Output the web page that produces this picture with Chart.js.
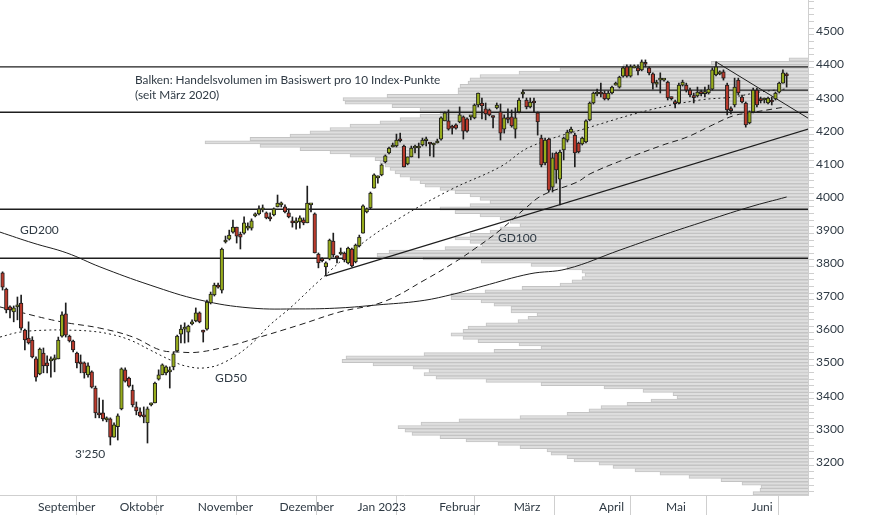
<!DOCTYPE html>
<html>
<head>
<meta charset="utf-8">
<script src="https://cdn.jsdelivr.net/npm/chart.js@4.4.1/dist/chart.umd.min.js"></script>
<style>
  html, body { margin: 0; padding: 0; background: #fff; }
  #wrap { width: 874px; height: 515px; }
</style>
</head>
<body>
<div id="wrap"><canvas id="chart" width="874" height="515"></canvas></div>
<script>
// one candle per trading day, index 0 = mid August 2022
const monthStarts = [9, 31, 52, 74, 95, 117, 137, 160, 178, 201];
const monthLabels = ["September", "Oktober", "November", "Dezember", "Jan 2023", "Februar", "März", "April", "Mai", "Juni"];

// [open, high, low, close]
const ohlc = [
  [3771,3774,3719,3728],[3722,3725,3650,3659],[3668,3671,3635,3659],[3653,3671,3623,3665],[3668,3698,3629,3671],
  [3680,3704,3598,3604],[3598,3601,3538,3568],[3574,3623,3556,3559],[3568,3578,3514,3517],
  // September
  [3511,3517,3444,3456],[3466,3544,3463,3541],[3529,3544,3469,3490],[3499,3520,3469,3490],[3505,3517,3456,3511],
  [3508,3523,3472,3514],[3511,3577,3511,3568],[3580,3653,3577,3644],[3647,3680,3577,3583],[3580,3583,3562,3565],
  [3565,3568,3532,3538],[3529,3532,3484,3499],[3499,3523,3469,3496],[3499,3502,3453,3469],[3463,3499,3456,3490],
  [3472,3475,3423,3426],[3423,3429,3333,3348],[3348,3393,3333,3342],[3348,3387,3324,3330],[3327,3336,3321,3330],
  [3330,3333,3251,3275],[3275,3318,3275,3312],
  // Oktober
  [3306,3345,3266,3339],[3360,3484,3357,3481],[3478,3484,3441,3444],[3453,3456,3426,3429],[3417,3432,3366,3372],
  [3366,3381,3342,3354],[3351,3363,3336,3339],[3339,3366,3318,3336],[3318,3366,3257,3360],[3372,3378,3369,3378],
  [3378,3441,3378,3438],[3450,3478,3447,3463],[3463,3496,3463,3493],[3469,3490,3463,3487],[3472,3487,3423,3476],
  [3487,3532,3478,3526],[3535,3583,3532,3580],[3586,3613,3559,3601],[3601,3620,3559,3604],[3592,3613,3562,3610],
  [3617,3629,3614,3620],
  // November
  [3626,3665,3623,3650],[3650,3653,3620,3623],[3595,3598,3562,3592],[3601,3689,3598,3683],[3680,3713,3677,3707],
  [3704,3740,3701,3734],[3734,3740,3725,3728],[3719,3846,3710,3843],[3864,3882,3861,3867],[3873,3900,3870,3885],
  [3894,3930,3891,3909],[3909,3909,3861,3882],[3888,3894,3843,3879],[3891,3940,3888,3922],[3906,3922,3900,3909],
  [3906,3934,3900,3928],[3943,3952,3940,3946],[3949,3973,3946,3964],[3961,3976,3955,3964],[3952,3955,3934,3937],
  [3940,3952,3928,3934],[3946,3967,3943,3964],
  // Dezember
  [3970,4006,3970,3982],[3976,3985,3970,3979],[3970,3976,3952,3955],[3952,3964,3937,3940],[3925,3940,3909,3922],
  [3922,3937,3903,3925],[3925,3943,3906,3937],[3931,3937,3916,3922],[3922,4033,3922,3982],[3976,3979,3955,3979],
  [3949,3952,3831,3831],[3828,3831,3786,3801],[3813,3816,3804,3808],[3789,3804,3762,3801],[3813,3873,3810,3870],
  [3867,3891,3819,3825],[3822,3822,3801,3816],[3828,3846,3825,3831],[3831,3834,3804,3810],[3801,3849,3798,3846],
  [3843,3846,3789,3792],
  // Januar
  [3804,3858,3801,3855],[3852,3885,3849,3879],[3891,3976,3891,3973],[3955,3967,3952,3964],[3967,4015,3964,4012],
  [4027,4070,4027,4067],[4058,4064,4042,4061],[4067,4100,4064,4097],[4106,4127,4103,4124],[4133,4151,4130,4148],
  [4151,4163,4151,4154],[4154,4190,4151,4172],[4175,4193,4166,4170],[4154,4157,4091,4091],[4100,4121,4097,4121],
  [4121,4154,4121,4148],[4148,4157,4133,4151],[4148,4163,4118,4151],[4157,4178,4154,4172],[4170,4181,4154,4174],
  [4163,4163,4124,4160],[4157,4163,4121,4160],
  // Februar
  [4163,4175,4163,4166],[4175,4242,4172,4239],[4230,4257,4230,4254],[4230,4263,4202,4205],[4214,4217,4190,4208],
  [4218,4221,4205,4208],[4227,4272,4224,4248],[4242,4245,4175,4199],[4236,4239,4196,4199],[4242,4245,4233,4245],
  [4239,4281,4236,4278],[4278,4314,4272,4314],[4284,4299,4236,4275],[4266,4284,4233,4251],[4263,4266,4245,4248],
  [4245,4245,4209,4240],[4269,4284,4266,4278],[4257,4281,4172,4193],[4205,4248,4193,4239],[4239,4266,4224,4234],
  // März
  [4242,4263,4211,4215],[4205,4269,4178,4239],[4257,4299,4254,4293],[4311,4323,4299,4316],[4293,4299,4266,4272],
  [4272,4299,4269,4287],[4290,4299,4257,4284],[4254,4257,4187,4227],[4178,4187,4091,4097],[4103,4178,4097,4172],
  [4175,4178,4015,4021],[4030,4133,4015,4118],[4133,4136,4042,4082],[4054,4142,3976,4136],[4142,4181,4112,4178],
  [4172,4202,4166,4196],[4196,4211,4193,4205],[4187,4193,4091,4133],[4163,4166,4133,4136],[4160,4181,4157,4178],
  [4166,4233,4163,4230],[4233,4287,4230,4284],[4284,4317,4281,4314],
  // April
  [4311,4326,4305,4314],[4314,4344,4302,4311],[4314,4320,4293,4296],[4296,4320,4293,4314],[4314,4335,4311,4332],
  [4338,4347,4338,4341],[4332,4365,4329,4362],[4365,4393,4362,4390],[4393,4399,4362,4365],[4365,4399,4362,4393],
  [4390,4399,4390,4393],[4390,4399,4369,4381],[4384,4414,4381,4408],[4404,4414,4393,4401],[4390,4393,4369,4375],
  [4372,4375,4326,4344],[4341,4353,4332,4346],[4353,4375,4314,4358],
  // Mai
  [4353,4356,4350,4353],[4347,4350,4293,4299],[4301,4302,4293,4297],[4286,4293,4269,4282],[4284,4344,4281,4338],
  [4338,4353,4335,4347],[4338,4344,4317,4323],[4323,4329,4302,4308],[4304,4314,4284,4300],[4305,4332,4302,4317],
  [4316,4323,4305,4312],[4312,4332,4302,4316],[4314,4338,4311,4326],[4326,4390,4323,4384],[4369,4408,4366,4393],
  [4372,4381,4369,4375],[4378,4384,4353,4359],[4338,4344,4248,4263],[4265,4272,4251,4261],[4278,4359,4272,4332],
  [4353,4359,4308,4314],[4302,4308,4284,4287],[4284,4287,4211,4218],
  // Juni
  [4224,4260,4221,4257],[4257,4329,4254,4323],[4323,4329,4272,4278],[4295,4302,4284,4291],[4293,4299,4284,4297],
  [4284,4302,4281,4299],[4293,4302,4278,4287],[4296,4317,4293,4314],[4317,4347,4314,4344],[4344,4384,4344,4375],
  [4372,4375,4332,4366]
];

// moving averages: [day index, level]
const gd50 = [[-0.7,3577],[4.7,3592],[12,3598],[17.3,3598],[23.5,3595],[28.9,3586],[34.3,3568],[39.7,3538],
  [45.1,3508],[49.1,3490],[54.5,3484],[59.9,3502],[66.6,3553],[72,3614],[77.4,3665],[85.4,3749],[96.2,3855],
  [107,3937],[120.4,4021],[133.9,4091],[141.9,4151],[158.1,4211],[174.2,4263],[187.7,4293],[196.6,4302],
  [203.8,4317],[210.6,4326]];
const gd100 = [[-0.7,3668],[5.5,3650],[12,3632],[17.3,3620],[26.2,3604],[35.1,3577],[42.4,3538],[47,3532],
  [53.1,3532],[62,3553],[66.6,3568],[80,3614],[90.8,3653],[102.4,3683],[113.7,3750],[121.8,3804],[126.6,3840],
  [133.9,3900],[141.1,3970],[145.4,4006],[154.6,4045],[158.1,4070],[167,4112],[177.7,4157],[184.2,4181],
  [190.4,4214],[196.6,4245],[201.1,4254],[210.6,4272]];
const gd200 = [[-0.7,3894],[8.2,3861],[17.3,3831],[26.2,3789],[39.7,3734],[53.1,3689],[66.6,3665],[80,3662],
  [90.8,3665],[100.8,3674],[112.3,3686],[120.4,3704],[129.3,3731],[141.9,3768],[151.9,3783],[166.2,3840],
  [176.9,3882],[187.7,3922],[201.1,3970],[211,4000]];

// support / resistance levels and trend lines
const levels = [4393, 4256, 3963, 3815];
const level4323 = [[140,4308],[140,4323],[216.8,4323]];
const trendUp = [[87,3762],[216.8,4205]];
const trendDown = [[192,4408],[216.8,4238]];

// volume profile: trading volume per 10 index points
const profileLevels = [];
for (let v = 3105; v <= 4415; v += 10) profileLevels.push(v);
const profileVolume = [
  55,48,47,66,87,119,148,173,195,209,234,241,257,261,288,310,342,368,396,403,
  410,387,349,288,241,219,207,181,157,131,135,165,204,267,322,372,384,379,395,435,
  466,462,384,314,267,289,330,345,357,345,340,322,290,280,271,297,297,314,327,357,
  357,323,286,248,236,226,223,226,241,277,327,385,431,419,363,326,338,353,338,318,
  308,288,298,308,328,353,368,338,318,328,338,353,368,383,388,398,408,413,418,423,
  428,433,458,478,508,548,603,558,518,498,478,458,428,408,388,368,388,416,463,465,
  421,350,350,348,340,338,328,289,248,185,97,19
];

const GREEN = '#97ac1c';
const RED = '#ba3a2c';
const INK = '#1e1e1e';
const TEXT = '#2f3a44';

const pts = arr => arr.map(p => ({x: p[0], y: p[1]}));

const datasets = [
  {
    type: 'bar', label: 'body', order: 1,
    data: ohlc.map((c, i) => ({x: i, y: [c[0], c[3]]})),
    backgroundColor: ohlc.map(c => c[3] >= c[0] ? GREEN : RED),
    borderColor: INK, borderWidth: 1, borderSkipped: false,
    barThickness: 3.6, minBarLength: 2, grouped: false
  },
  {
    type: 'bar', label: 'wick', order: 2,
    data: ohlc.map((c, i) => ({x: i, y: [c[2], c[1]]})),
    backgroundColor: INK, borderWidth: 0, barThickness: 1, grouped: false
  },
  {
    type: 'line', label: 'GD50', order: 4, data: pts(gd50),
    borderColor: INK, borderWidth: 1, borderDash: [2, 3], pointRadius: 0, tension: 0.4
  },
  {
    type: 'line', label: 'GD100', order: 4, data: pts(gd100),
    borderColor: INK, borderWidth: 1, borderDash: [6, 4], pointRadius: 0, tension: 0.4
  },
  {
    type: 'line', label: 'GD200', order: 4, data: pts(gd200),
    borderColor: INK, borderWidth: 1, pointRadius: 0, tension: 0.4
  },
  {
    type: 'line', label: 'trend up', order: 4, data: pts(trendUp),
    borderColor: INK, borderWidth: 1.2, pointRadius: 0
  },
  {
    type: 'line', label: 'trend down', order: 4, data: pts(trendDown),
    borderColor: INK, borderWidth: 1, pointRadius: 0
  },
  {
    type: 'line', label: '4323', order: 5, data: pts(level4323),
    borderColor: INK, borderWidth: 1.3, pointRadius: 0
  },
  ...levels.map(v => ({
    type: 'line', label: String(v), order: 5,
    data: [{x: -0.7, y: v}, {x: 216.8, y: v}],
    borderColor: INK, borderWidth: 1.3, pointRadius: 0
  })),
  {
    type: 'bar', label: 'profile', order: 10, indexAxis: 'y',
    xAxisID: 'xv', yAxisID: 'y',
    data: profileLevels.map((v, i) => ({x: profileVolume[i], y: v})),
    backgroundColor: '#dedede', borderColor: '#c3c3c3', borderWidth: 1,
    barThickness: 3.3, grouped: false
  }
];

// labels written into the plot
const notes = {
  id: 'notes',
  afterDatasetsDraw(chart) {
    const {ctx, chartArea, scales: {x, y}} = chart;
    ctx.save();
    ctx.fillStyle = TEXT;
    ctx.font = '11.8px Lato';
    ctx.textBaseline = 'middle';
    ctx.fillText('Balken: Handelsvolumen im Basiswert pro 10 Index-Punkte', chartArea.left + 135, chartArea.top + 80);
    ctx.fillText('(seit März 2020)', chartArea.left + 135, chartArea.top + 95);
    ctx.font = '12px Lato';
    ctx.fillText('GD200', x.getPixelForValue(4.7), y.getPixelForValue(3900));
    ctx.fillText('GD50', x.getPixelForValue(57.2), y.getPixelForValue(3454));
    ctx.fillText('GD100', x.getPixelForValue(133.3), y.getPixelForValue(3876));
    ctx.fillText("3'250", x.getPixelForValue(19.5), y.getPixelForValue(3224));
    ctx.restore();
  }
};

new Chart(document.getElementById('chart'), {
  type: 'line',
  data: { datasets },
  options: {
    responsive: false,
    animation: false,
    devicePixelRatio: 1,
    layout: { padding: 0 },
    plugins: { legend: { display: false }, tooltip: { enabled: false } },
    scales: {
      x: {
        type: 'linear', position: 'bottom', min: -0.69, max: 216.75, offset: false,
        afterBuildTicks: s => { s.ticks = monthStarts.map(v => ({value: v})).concat([{value: 216.75}]); },
        ticks: {
          autoSkip: false, maxRotation: 0, minRotation: 0, align: 'start', padding: -15, labelOffset: 2,
          color: TEXT, font: { family: 'Lato', size: 12 },
          callback: v => { const k = monthStarts.indexOf(v); return k >= 0 ? monthLabels[k] : ''; }
        },
        grid: { drawOnChartArea: false, drawTicks: true, tickLength: 20, color: '#cfcfcf' },
        border: { display: true, color: '#cfcfcf' },
        afterFit: s => { s.height = 20; s.paddingLeft = 0; s.paddingRight = 0; }
      },
      xv: { type: 'linear', axis: 'x', display: false, min: 0, max: 808, reverse: true, offset: false },
      y: {
        type: 'linear', position: 'right', min: 3100, max: 4595, offset: false,
        afterBuildTicks: s => {
          const t = [];
          for (let v = 3120; v <= 4580; v += 20) t.push({value: v});
          s.ticks = t;
        },
        ticks: {
          autoSkip: false, padding: 2, color: TEXT, font: { family: 'Lato', size: 12 },
          callback: v => v % 100 === 0 ? String(v) : ''
        },
        grid: { drawOnChartArea: false, drawTicks: true, tickLength: 6, color: '#cfcfcf' },
        border: { display: true, color: '#cfcfcf' },
        afterFit: s => { s.width = 66; s.paddingTop = 0; s.paddingBottom = 0; }
      }
    }
  },
  plugins: [notes]
});
</script>
</body>
</html>
